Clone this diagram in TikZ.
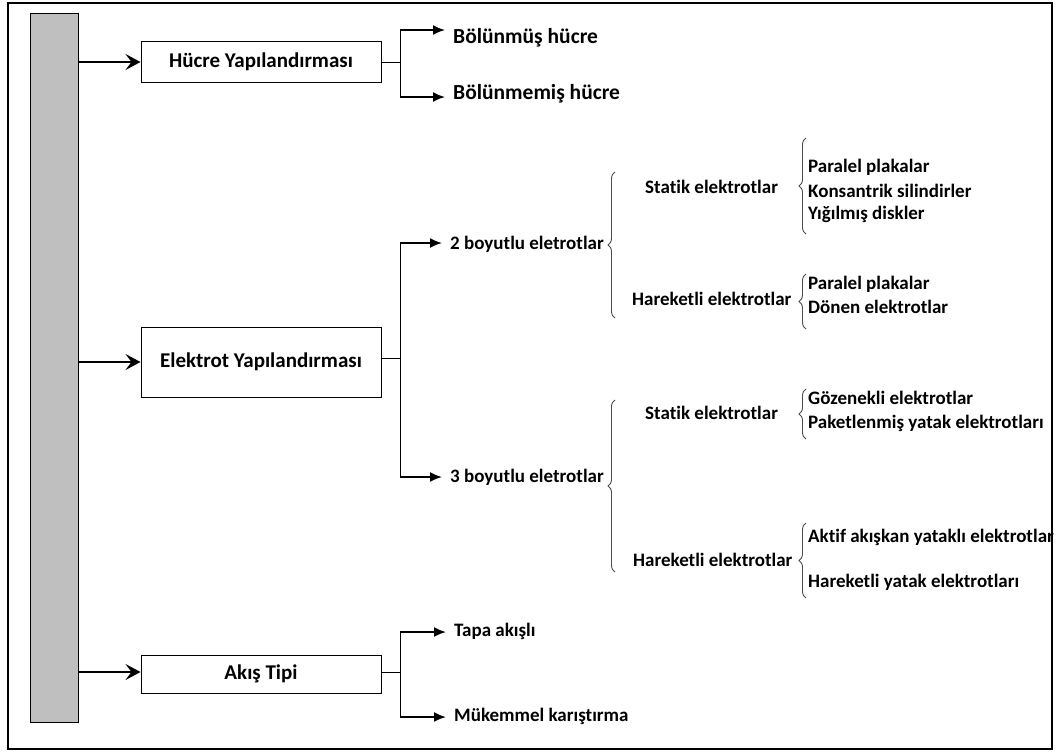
\documentclass[tikz,border=0pt]{standalone}
\usepackage{fontspec}
\setmainfont{Carlito}[Ligatures=NoCommon]
\usetikzlibrary{arrows.meta,decorations.pathreplacing}
\begin{document}
\begin{tikzpicture}[x=1pt,y=-1pt,
  mainbox/.style={draw,line width=1pt,minimum width=240pt,font=\bfseries\fontsize{21}{23}\selectfont,inner sep=0pt},
  lvl1/.style={anchor=west,inner sep=0pt,font=\bfseries\fontsize{21.5}{24}\selectfont},
  lvl2/.style={anchor=west,inner sep=0pt,font=\bfseries\fontsize{19}{21}\selectfont},
  item/.style={anchor=west,inner sep=0pt,font=\bfseries\fontsize{19}{21}\selectfont},
  feed/.style={line width=1.8pt,-{Stealth[length=15pt,width=16pt,inset=6pt]}},
  branch/.style={line width=1.8pt,-{Latex[length=12pt,width=10pt]},shorten >=8pt},
  trunk/.style={line width=0.9pt},
  brc/.style={draw=black!70,line width=0.9pt,decorate,decoration={brace,amplitude=7pt}}]
\useasboundingbox (0,0) rectangle (1056,753);
\draw[line width=1.5pt] (8,3) rectangle (1052,749);
\draw[fill=black!25,line width=1pt] (30,13) rectangle (78,722);
\coordinate (g1) at (78,62);
\coordinate (g2) at (78,362);
\coordinate (g3) at (78,672);
% main boxes
\node[mainbox,minimum height=41pt] (hucre) at (261,62) {Hücre Yapılandırması};
\node[mainbox,minimum height=70pt] (elek) at (261,362) {Elektrot Yapılandırması};
\node[mainbox,minimum height=38pt] (akis) at (261,674) {Akış Tipi};
\draw[feed] (g1) -- (hucre.west);
\draw[feed] (g2) -- (elek.west);
\draw[feed] (g3) -- (akis.west |- g3);
% level 1 texts
\node[lvl1] (b1) at (453,38) {Bölünmüş hücre};
\node[lvl1] (b2) at (453,94) {Bölünmemiş hücre};
\node[lvl2] (d2) at (450,244) {2 boyutlu eletrotlar};
\node[lvl2] (d3) at (450,477) {3 boyutlu eletrotlar};
\node[lvl2] (t1) at (454,631) {Tapa akışlı};
\node[lvl2] (t2) at (454,716) {Mükemmel karıştırma};
% junctions
\coordinate (j1) at (400,62);
\coordinate (j1a) at (400,30);
\coordinate (j1b) at (400,97);
\coordinate (j2) at (400,358);
\coordinate (j2a) at (400,243);
\coordinate (j2b) at (400,477);
\coordinate (j3) at (400,672);
\coordinate (j3a) at (400,632);
\coordinate (j3b) at (400,717);
\draw[trunk] (hucre.east) -- (j1);
\draw[trunk] (j1a) -- (j1b);
\draw[branch] (j1a) -- (b1.west |- j1a);
\draw[branch] (j1b) -- (b2.west |- j1b);
\draw[trunk] (elek.east |- j2) -- (j2);
\draw[trunk] (j2a) -- (j2b);
\draw[branch] (j2a) -- (d2.west |- j2a);
\draw[branch] (j2b) -- (d3.west |- j2b);
\draw[trunk] (akis.east |- j3) -- (j3);
\draw[trunk] (j3a) -- (j3b);
\draw[branch] (j3a) -- (t1.west |- j3a);
\draw[branch] (j3b) -- (t2.west |- j3b);
% level 2
\node[lvl2] (s2) at (645,187) {Statik elektrotlar};
\node[lvl2] (h2) at (632,299) {Hareketli elektrotlar};
\node[lvl2] (s3) at (645,413) {Statik elektrotlar};
\node[lvl2] (h3) at (633,560) {Hareketli elektrotlar};
% items
\node[item] (p1) at (808,167) {Paralel plakalar};
\node[item] (p2) at (808,191) {Konsantrik silindirler};
\node[item] (p3) at (808,214) {Yığılmış diskler};
\node[item] (p4) at (808,284) {Paralel plakalar};
\node[item] (p5) at (808,307) {Dönen elektrotlar};
\node[item] (p6) at (808,398) {Gözenekli elektrotlar};
\node[item] (p7) at (808,423) {Paketlenmiş yatak elektrotları};
\node[item] (p8) at (808,537) {Aktif akışkan yataklı elektrotlar};
\node[item] (p9) at (808,582) {Hareketli yatak elektrotları};
% braces
\draw[brc] (615,318) -- (615,172);
\draw[brc] (615,572) -- (615,400);
\draw[brc] (806,234) -- (806,138);
\draw[brc] (806,329) -- (806,274);
\draw[brc] (806,439) -- (806,389);
\draw[brc] (806,598) -- (806,523);
\end{tikzpicture}
\end{document}
